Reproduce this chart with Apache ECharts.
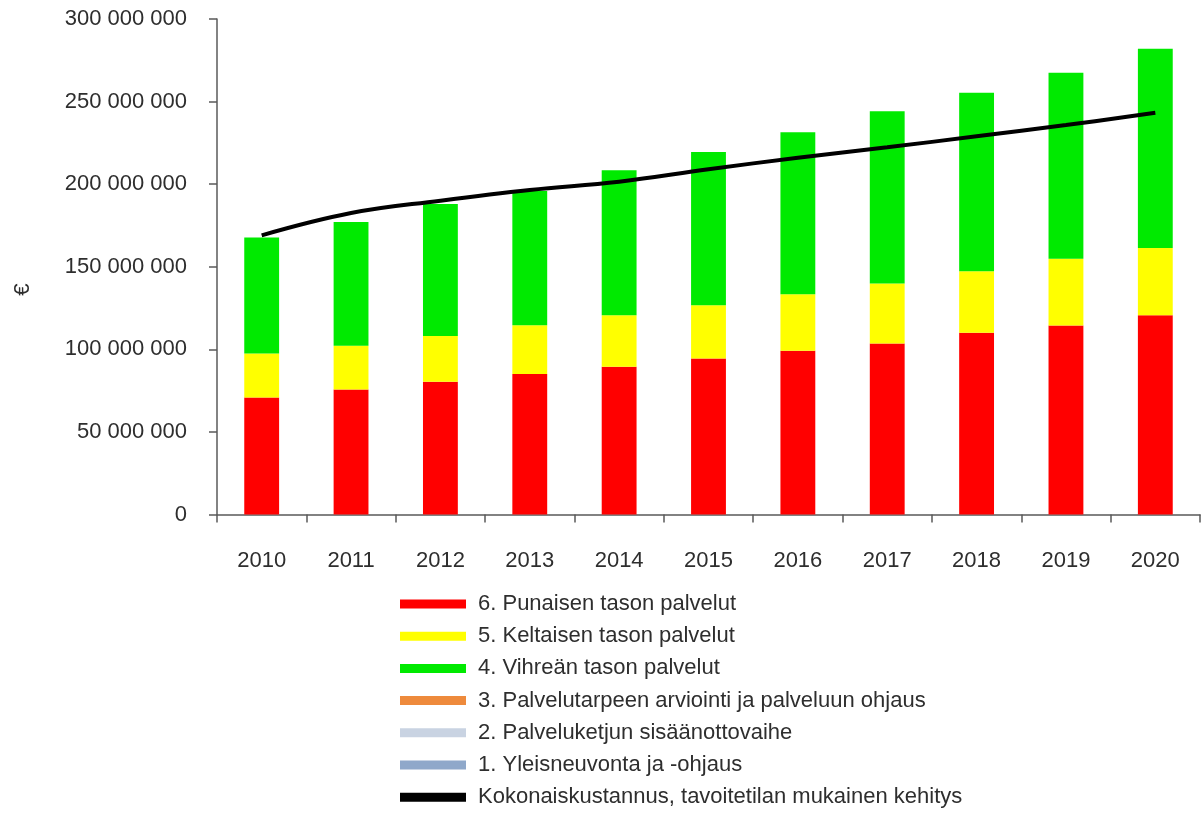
<!DOCTYPE html>
<html>
<head>
<meta charset="utf-8">
<script src="https://cdn.jsdelivr.net/npm/echarts@6/dist/echarts.min.js"></script>
<style>
  html, body { margin: 0; padding: 0; background: #ffffff; }
  #chart { width: 1203px; height: 814px; }
</style>
</head>
<body>
<div id="chart"></div>
<script>
// Years on the category axis
const years = ['2010', '2011', '2012', '2013', '2014', '2015', '2016', '2017', '2018', '2019', '2020'];

// Cost by service level, euros per year
const punainen = [70900000, 75700000, 80300000, 85000000, 89400000, 94500000, 99100000, 103500000, 110000000, 114500000, 120600000];
const keltainen = [26600000, 26400000, 27800000, 29600000, 31300000, 32200000, 34300000, 36300000, 37300000, 40300000, 40800000];
const vihrea = [70200000, 75000000, 79900000, 81300000, 87700000, 92700000, 98100000, 104300000, 108100000, 112600000, 120600000];
const arviointi = [0, 0, 0, 0, 0, 0, 0, 0, 0, 0, 0];
const sisaanotto = [0, 0, 0, 0, 0, 0, 0, 0, 0, 0, 0];
const yleisneuvonta = [0, 0, 0, 0, 0, 0, 0, 0, 0, 0, 0];

// Total cost following the target-state development
const kokonais = [169000000, 182500000, 190000000, 196500000, 201500000, 209000000, 216000000, 222300000, 229000000, 235800000, 243200000];

// Legend / series names
const names = {
  red: '6. Punaisen tason palvelut',
  yellow: '5. Keltaisen tason palvelut',
  green: '4. Vihreän tason palvelut',
  orange: '3. Palvelutarpeen arviointi ja palveluun ohjaus',
  grey: '2. Palveluketjun sisäänottovaihe',
  blue: '1. Yleisneuvonta ja -ohjaus',
  total: 'Kokonaiskustannus, tavoitetilan mukainen kehitys'
};

const FONT = "'Liberation Sans', Arial, sans-serif";
const TEXT = '#2e2e2e';

function spaced(v) {
  return String(v).replace(/\B(?=(\d{3})+(?!\d))/g, ' ');
}

function barSeries(name, data, color) {
  return {
    name: name,
    type: 'bar',
    stack: 'kustannus',
    data: data,
    barWidth: '39%',
    itemStyle: { color: color },
    emphasis: { disabled: true }
  };
}

const chart = echarts.init(document.getElementById('chart'), null, { renderer: 'canvas' });

chart.setOption({
  animation: false,
  backgroundColor: '#ffffff',
  textStyle: { fontFamily: FONT, color: TEXT },
  grid: { left: 217, right: 3, top: 19, bottom: 299.5, containLabel: false },
  legend: {
    orient: 'vertical',
    left: 400,
    top: 593,
    bottom: 0,
    padding: 0,
    icon: 'rect',
    itemWidth: 66,
    itemHeight: 9,
    itemGap: 10.2,
    selectedMode: false,
    textStyle: { fontFamily: FONT, fontSize: 22, color: TEXT, padding: [0, 0, 0, 7] },
    data: [names.red, names.yellow, names.green, names.orange, names.grey, names.blue, names.total]
  },
  xAxis: {
    type: 'category',
    data: years,
    boundaryGap: true,
    axisLine: { lineStyle: { color: '#5a5a5a', width: 1.5 } },
    axisTick: { show: true, length: 8, lineStyle: { color: '#5a5a5a', width: 1.5 } },
    axisLabel: { fontFamily: FONT, fontSize: 22, color: TEXT, margin: 35 },
    splitLine: { show: false }
  },
  yAxis: {
    type: 'value',
    min: 0,
    max: 300000000,
    interval: 50000000,
    name: '€',
    nameLocation: 'middle',
    nameGap: 183,
    nameTextStyle: { fontFamily: FONT, fontSize: 22, color: TEXT, padding: [0, 46, 0, 0] },
    axisLine: { show: true, lineStyle: { color: '#5a5a5a', width: 1.5 } },
    axisTick: { show: true, length: 8, lineStyle: { color: '#5a5a5a', width: 1.5 } },
    axisLabel: { fontFamily: FONT, fontSize: 22, color: TEXT, margin: 30, formatter: spaced },
    splitLine: { show: false }
  },
  series: [
    barSeries(names.blue, yleisneuvonta, '#8fa8ca'),
    barSeries(names.grey, sisaanotto, '#c9d3e2'),
    barSeries(names.orange, arviointi, '#ee8a3c'),
    barSeries(names.red, punainen, '#ff0000'),
    barSeries(names.yellow, keltainen, '#ffff00'),
    barSeries(names.green, vihrea, '#00ea00'),
    {
      name: names.total,
      type: 'line',
      data: kokonais,
      smooth: 0.4,
      symbol: 'none',
      lineStyle: { color: '#000000', width: 4 },
      itemStyle: { color: '#000000' },
      z: 5
    }
  ]
});
</script>
</body>
</html>
